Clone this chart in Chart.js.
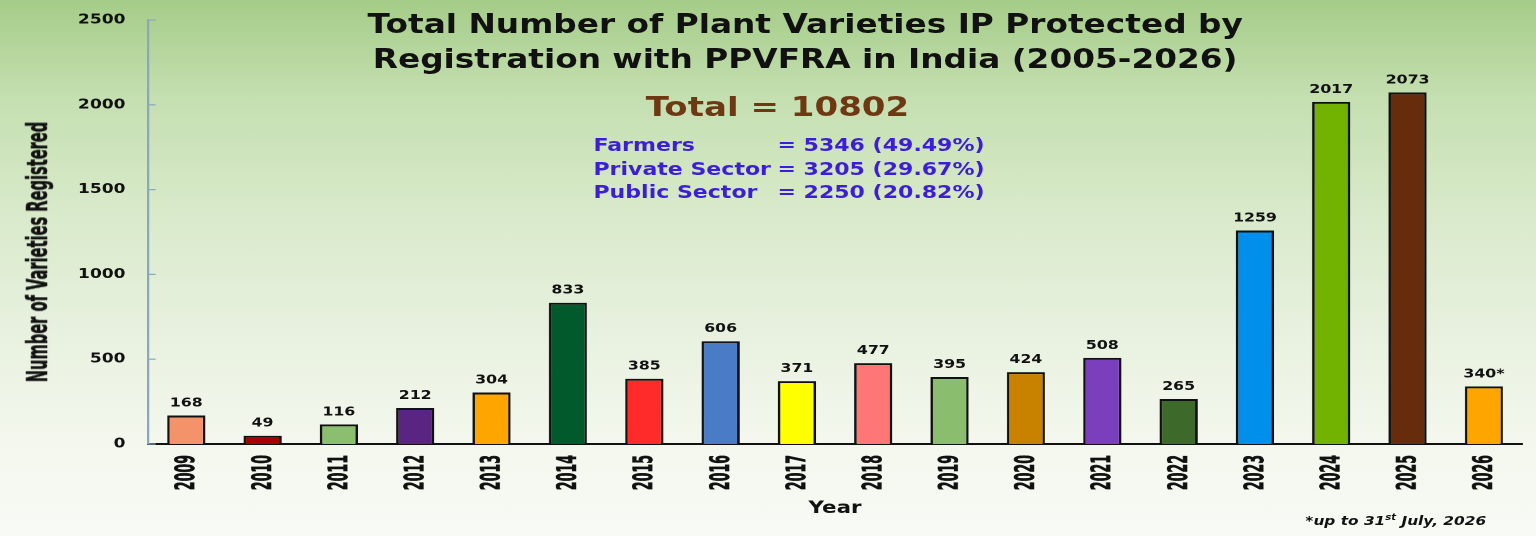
<!DOCTYPE html>
<html>
<head>
<meta charset="utf-8">
<script src="https://cdn.jsdelivr.net/npm/chart.js@4"></script>
<style>
    html, body {
        margin: 0;
        padding: 0;
        width: 1536px;
        height: 536px;
        overflow: hidden;
    }
    body {
        background: linear-gradient(to bottom, #a5cc88 0%, #c4dfb0 18%, #d9eacb 40%, #e8f1df 62%, #f3f7ed 82%, #f8faf5 100%);
    }
    /* the reference looks stretched sideways, so lay out narrow and widen */
    #stage {
        position: absolute;
        left: 0;
        top: 0;
        width: 1219px;
        height: 536px;
        transform: scaleX(1.26);
        transform-origin: 0 0;
    }
    #title {
        position: absolute;
        left: 239px;
        width: 800px;
        top: 7px;
        text-align: center;
        font: bold 26px "DejaVu Sans", sans-serif;
        line-height: 35px;
        color: #111;
        white-space: nowrap;
    }
    #total {
        position: absolute;
        left: 417px;
        width: 400px;
        top: 91px;
        text-align: center;
        font: bold 27px "DejaVu Sans", sans-serif;
        color: #6e3813;
        white-space: nowrap;
    }
    #shares {
        position: absolute;
        left: 471px;
        top: 134px;
        font: bold 17.5px "DejaVu Sans", sans-serif;
        line-height: 23.5px;
        color: #3b1ed6;
    }
    #shares .row { white-space: nowrap; }
    #shares .lbl { display: inline-block; width: 146px; }
    #yTitle {
        position: absolute;
        left: 30px;
        top: 252px;
        /* condensed face is still too long, squeeze it along the text */
        transform: translate(-50%, -50%) rotate(-90deg) scaleX(0.74);
        font: bold 22px "DejaVu Sans Condensed", sans-serif;
        -webkit-text-stroke: 0.4px #111;
        color: #111;
        white-space: nowrap;
    }
    #note {
        position: absolute;
        left: 1036px;
        top: 513px;
        font: italic bold 12.2px "DejaVu Sans", sans-serif;
        color: #111;
        white-space: nowrap;
    }
    #note sup { font-size: 8px; }
</style>
</head>
<body>
<div id="stage">
    <canvas id="ppvChart"></canvas>
    <div id="title">Total Number of Plant Varieties IP Protected by<br>Registration with PPVFRA in India (2005-2026)</div>
    <div id="total"></div>
    <div id="shares"></div>
    <div id="yTitle">Number of Varieties Registered</div>
    <div id="note">*up to 31<sup>st</sup> July, 2026</div>
</div>
<script>
    // values
    const years = ["2009", "2010", "2011", "2012", "2013", "2014", "2015", "2016", "2017",
                   "2018", "2019", "2020", "2021", "2022", "2023", "2024", "2025", "2026"];
    const registered = [168, 49, 116, 212, 304, 833, 385, 606, 371,
                        477, 395, 424, 508, 265, 1259, 2017, 2073, 340];
    const partialYear = "2026"; // only up to 31st July
    const barColors = ["#f4936a", "#a60000", "#8bbf6f", "#5a2582", "#ffa500", "#005a2b",
                       "#ff2a2a", "#4a7bc6", "#ffff00", "#ff7676", "#8bbd6e", "#c98200",
                       "#7b3fbe", "#3d6a2a", "#0090ec", "#72b200", "#672c0c", "#ffa500"];
    const yTicks = [0, 500, 1000, 1500, 2000, 2500];

    const grandTotal = "10802";
    const shareNames = ["Farmers", "Private Sector", "Public Sector"];
    const shareCounts = [5346, 3205, 2250];
    const sharePercents = ["49.49%", "29.67%", "20.82%"];

    document.getElementById("total").textContent = "Total = " + grandTotal;
    const sharesBox = document.getElementById("shares");
    shareNames.forEach((name, i) => {
        let row = document.createElement("div");
        row.className = "row";
        row.innerHTML = '<span class="lbl">' + name + '</span>= ' + shareCounts[i] + " (" + sharePercents[i] + ")";
        sharesBox.appendChild(row);
    });

    // numbers above every bar
    const valueLabels = {
        id: "valueLabels",
        afterDatasetsDraw(chart) {
            const ctx = chart.ctx;
            const meta = chart.getDatasetMeta(0);
            ctx.save();
            ctx.font = "bold 12.5px 'DejaVu Sans', sans-serif";
            ctx.fillStyle = "#111";
            ctx.textAlign = "center";
            ctx.textBaseline = "bottom";
            meta.data.forEach((bar, i) => {
                let txt = String(registered[i]) + (years[i] === partialYear ? "*" : "");
                ctx.fillText(txt, bar.x, bar.y - 6);
            });
            ctx.restore();
        }
    };

    // year labels: upright condensed text, squeezed like the narrow font in the original
    const yearLabels = {
        id: "yearLabels",
        afterDraw(chart) {
            const ctx = chart.ctx;
            const x = chart.scales.x;
            ctx.save();
            ctx.font = "bold 21px 'DejaVu Sans Condensed', sans-serif";
            ctx.fillStyle = "#111";
            ctx.strokeStyle = "#111";
            ctx.lineWidth = 0.5;
            ctx.textAlign = "right";
            ctx.textBaseline = "middle";
            x.ticks.forEach((t, i) => {
                let txt = x.getLabelForValue(t.value);
                ctx.save();
                ctx.translate(x.getPixelForTick(i) + 1, x.top + 11);
                ctx.rotate(-Math.PI / 2);
                ctx.scale(0.67, 1);
                ctx.fillText(txt, 0, 0);
                ctx.strokeText(txt, 0, 0);
                ctx.restore();
            });
            ctx.restore();
        }
    };

    // short tick marks on the inside of the y axis
    const innerTicks = {
        id: "innerTicks",
        afterDraw(chart) {
            const ctx = chart.ctx;
            const y = chart.scales.y;
            ctx.save();
            ctx.strokeStyle = "#8ba7bc";
            ctx.lineWidth = 1.2;
            yTicks.forEach(v => {
                let py = y.getPixelForValue(v);
                ctx.beginPath();
                ctx.moveTo(chart.chartArea.left, py);
                ctx.lineTo(chart.chartArea.left + 6, py);
                ctx.stroke();
            });
            ctx.restore();
        }
    };

    // keep the plot box where the reference has it (0 at y=444, 2500 at y=20)
    function noEdgePadding(scale) {
        scale.paddingTop = 0;
        scale.paddingBottom = 0;
        scale.paddingLeft = 0;
        scale.paddingRight = 0;
    }

    new Chart(document.getElementById("ppvChart"), {
        type: "bar",
        data: {
            labels: years,
            datasets: [{
                data: registered,
                backgroundColor: barColors,
                borderColor: "#111",
                borderWidth: 2,
                borderSkipped: "bottom",
                barPercentage: 0.5,
                categoryPercentage: 1.0
            }]
        },
        options: {
            responsive: true,
            maintainAspectRatio: false,
            animation: false,
            devicePixelRatio: 2,
            layout: { padding: { top: 20, right: 11, left: 0, bottom: 0 } },
            plugins: {
                legend: { display: false },
                tooltip: { enabled: false }
            },
            scales: {
                x: {
                    afterFit: scale => { scale.height = 92; noEdgePadding(scale); },
                    grid: { display: false, drawTicks: false },
                    border: { display: true, color: "#111", width: 2 },
                    ticks: { display: false, autoSkip: false },
                    title: {
                        display: true,
                        text: "Year",
                        color: "#111",
                        padding: { top: 0, bottom: 17 },
                        font: { family: "'DejaVu Sans', sans-serif", size: 17, weight: "bold" }
                    }
                },
                y: {
                    min: 0,
                    max: 2500,
                    afterFit: scale => { scale.width = 117.5; noEdgePadding(scale); },
                    afterBuildTicks: scale => { scale.ticks = yTicks.map(v => ({ value: v })); },
                    grid: { display: false, drawTicks: false },
                    border: { display: true, color: "#8ba7bc", width: 2 },
                    ticks: {
                        color: "#111",
                        padding: 18,
                        callback: value => String(value),
                        font: { family: "'DejaVu Sans', sans-serif", size: 13.5, weight: "bold" }
                    }
                }
            }
        },
        plugins: [valueLabels, yearLabels, innerTicks]
    });
</script>
</body>
</html>
